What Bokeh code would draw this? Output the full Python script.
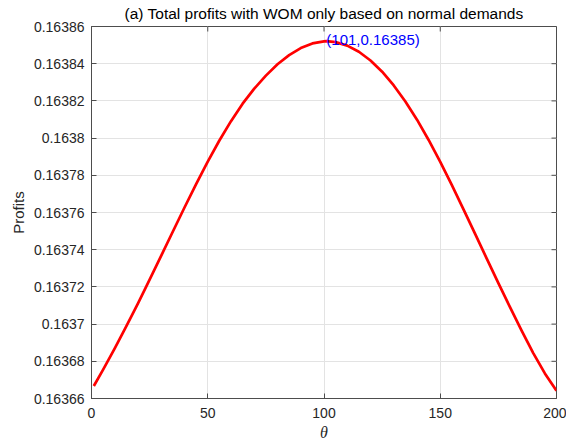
import math
from bokeh.plotting import figure
from bokeh.models import (FixedTicker, NumeralTickFormatter, Label, Range1d)
from bokeh.embed import file_html
from bokeh.resources import INLINE

# ---- data ----
theta = [1, 5, 10, 15, 20, 25, 30, 35, 40, 45, 50, 55, 60, 65, 70, 75, 80, 85, 90, 95,
         100, 101, 105, 110, 115, 120, 125, 130, 135, 140, 145, 150, 155, 160, 165, 170,
         175, 180, 185, 190, 195, 200]
profits = [0.1636667, 0.1636755, 0.1636870, 0.1636989, 0.1637112, 0.1637239, 0.1637368,
           0.1637498, 0.1637627, 0.1637753, 0.1637874, 0.1637987, 0.1638091, 0.1638185,
           0.1638266, 0.1638336, 0.1638397, 0.1638446, 0.1638484, 0.1638509, 0.1638520,
           0.1638521, 0.1638516, 0.1638497, 0.1638464, 0.1638417, 0.1638357, 0.1638283,
           0.1638197, 0.1638099, 0.1637990, 0.1637872, 0.1637747, 0.1637617, 0.1637485,
           0.1637352, 0.1637220, 0.1637091, 0.1636965, 0.1636844, 0.1636735, 0.1636642]

x_ticks = [0, 50, 100, 150, 200]
y_ticks = [0.16366, 0.16368, 0.16370, 0.16372, 0.16374, 0.16376, 0.16378, 0.16380,
           0.16382, 0.16384, 0.16386]

peak_theta = 101
peak_label = "(101,0.16385)"

title_text = "(a) Total profits with WOM only based on normal demands"
x_label = "θ"
y_label = "Profits"

FONT = "Liberation Sans"
AX = "#4d4d4d"
TXT = "#262626"
GRID = "#e3e3e3"

x0, x1 = x_ticks[0], x_ticks[-1]
y0, y1 = y_ticks[0], y_ticks[-1]

p = figure(width=566, height=443, output_backend="svg", toolbar_location=None,
           x_range=Range1d(x0, x1), y_range=Range1d(y0, y1),
           title=title_text,
           min_border_left=91, min_border_right=10, min_border_top=26, min_border_bottom=45)

p.title.text_font = FONT
p.title.text_font_size = "15.5px"
p.title.text_font_style = "normal"
p.title.text_color = "#000000"
p.title.align = "center"
p.title.vertical_align = "top"
p.title.offset = -8
p.title.standoff = 6

p.outline_line_color = AX
p.outline_line_width = 1
p.background_fill_color = "white"
p.border_fill_color = "white"

xa = p.xaxis[0]
ya = p.yaxis[0]
xa.ticker = FixedTicker(ticks=x_ticks)
ya.ticker = FixedTicker(ticks=y_ticks)
ya.formatter = NumeralTickFormatter(format="0.[00000]")
for ax in (xa, ya):
    ax.axis_line_color = AX
    ax.major_tick_line_color = AX
    ax.major_tick_in = 5
    ax.major_tick_out = 0
    ax.minor_tick_line_color = None
    ax.major_label_text_font = FONT
    ax.major_label_text_font_size = "14px"
    ax.major_label_text_color = TXT
    ax.axis_label_text_color = TXT
    ax.axis_label_text_font_style = "normal"

xa.axis_label = x_label
xa.axis_label_text_font = "Liberation Serif"
xa.axis_label_text_font_style = "italic"
xa.axis_label_text_font_size = "16px"
xa.axis_label_standoff = 3
xa.major_label_standoff = 9

ya.axis_label = y_label
ya.axis_label_text_font = FONT
ya.axis_label_text_font_size = "15px"
ya.axis_label_standoff = 4
ya.major_label_standoff = 7

p.xgrid.ticker = FixedTicker(ticks=x_ticks)
p.ygrid.ticker = FixedTicker(ticks=y_ticks)
p.grid.grid_line_color = GRID
p.grid.grid_line_width = 1

# mirrored inward ticks on the top and right edges (box on)
p.ray(x=x_ticks, y=[y1] * len(x_ticks), length=5, length_units="screen",
      angle=-math.pi / 2, line_color=AX, line_width=1)
p.ray(x=[x1] * len(y_ticks), y=y_ticks, length=5, length_units="screen",
      angle=math.pi, line_color=AX, line_width=1)

p.line(theta, profits, line_color="#ff0000", line_width=2.7, line_join="round")

peak_profit = profits[theta.index(peak_theta)]
p.add_layout(Label(x=peak_theta, y=peak_profit, text=peak_label, y_offset=2,
                   text_font=FONT, text_font_size="15px", text_color="#0000ff",
                   text_align="left", text_baseline="middle"))

open("out.html", "w").write(file_html(p, INLINE))
